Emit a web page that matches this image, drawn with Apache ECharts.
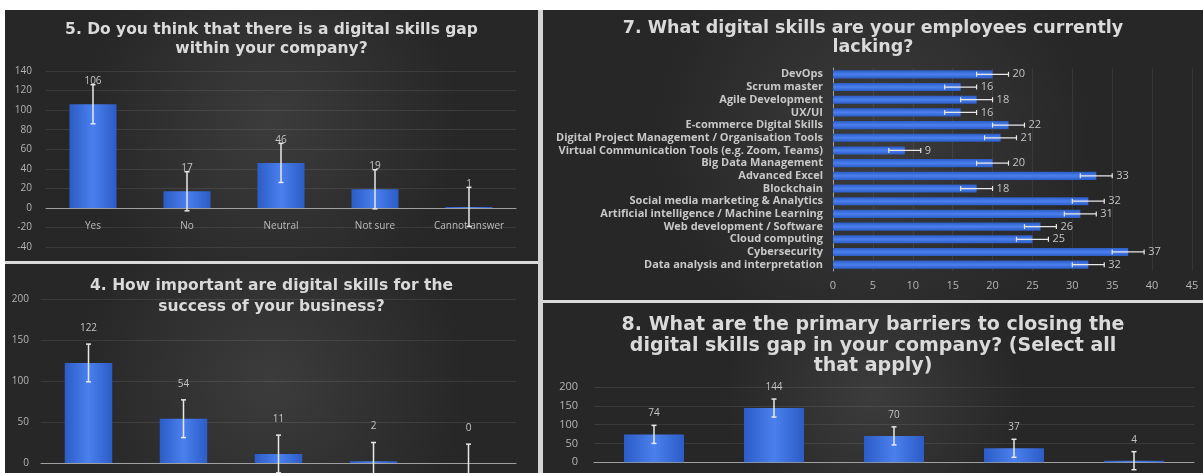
<!DOCTYPE html>
<html>
<head>
<meta charset="utf-8">
<script src="https://cdn.jsdelivr.net/npm/echarts@6/dist/echarts.min.js"></script>
<style>
html, body { margin:0; padding:0; background:#ffffff; width:1203px; height:473px; overflow:hidden; }
.panel { position:absolute; overflow:hidden; }
#q5 { left:5px; top:10px; width:533px; height:251px; }
#q4 { left:5px; top:264px; width:533px; height:260px; }
#q7 { left:543px; top:10px; width:660px; height:290px; }
#q8 { left:543px; top:303px; width:660px; height:200px; }
#sepV { position:absolute; left:538px; top:10px; width:5px; height:463px; background:#d4d4d4; }
#sepL { position:absolute; left:5px; top:261px; width:533px; height:3px; background:#dadada; }
#sepR { position:absolute; left:543px; top:300px; width:660px; height:3px; background:#dadada; }
</style>
</head>
<body>
<div id="sepV"></div>
<div id="sepL"></div>
<div id="sepR"></div>
<div id="q5" class="panel"></div>
<div id="q4" class="panel"></div>
<div id="q7" class="panel"></div>
<div id="q8" class="panel"></div>
<script>
// 5. digital skills gap
var q5Cats = ['Yes', 'No', 'Neutral', 'Not sure', 'Cannot answer'];
var q5Vals = [106, 17, 46, 19, 1];
var q5Err = 20;
var q5Ticks = [-40, 140, 20]; // min, max, step

// 4. importance of digital skills (category labels are cut off in the picture)
var q4Cats = ['1', '2', '3', '4', '5'];
var q4Vals = [122, 54, 11, 2, 0];
var q4Err = 23;
var q4Ticks = [-50, 200, 50];

// 7. skills lacking
var q7Cats = ['DevOps', 'Scrum master', 'Agile Development', 'UX/UI', 'E-commerce Digital Skills',
    'Digital Project Management / Organisation Tools', 'Virtual Communication Tools (e.g. Zoom, Teams)',
    'Big Data Management', 'Advanced Excel', 'Blockchain', 'Social media marketing & Analytics',
    'Artificial intelligence / Machine Learning', 'Web development / Software', 'Cloud computing',
    'Cybersecurity', 'Data analysis and interpretation'];
var q7Vals = [20, 16, 18, 16, 22, 21, 9, 20, 33, 18, 32, 31, 26, 25, 37, 32];
var q7Err = 2;
var q7Ticks = [0, 45, 5];

// 8. barriers (category labels are cut off in the picture)
var q8Cats = ['1', '2', '3', '4', '5'];
var q8Vals = [74, 144, 70, 37, 4];
var q8Err = 24;
var q8Ticks = [-50, 200, 50];

var FONT = '"Open Sans", "DejaVu Sans", sans-serif';
var TFONT = '"DejaVu Sans", sans-serif';

function panelBg(){
    return {
        type:'radial', x:0.5, y:0.45, r:0.75,
        colorStops:[{offset:0, color:'#3c3c3c'}, {offset:1, color:'#272727'}]
    };
}
function barFill(horizontal){
    return {
        type:'linear', x:0, y:0, x2: horizontal ? 0 : 1, y2: horizontal ? 1 : 0,
        colorStops:[{offset:0, color:'#2c5cc6'}, {offset:0.5, color:'#4a80ee'}, {offset:1, color:'#2c5cc6'}]
    };
}

// 误差线 (vertical bars)
function errV(vals, err){
    return {
        type:'custom', z:10, silent:true,
        data: vals.map(function(v, i){ return [i, v - err, v + err]; }),
        encode:{x:0, y:[1, 2]},
        renderItem:function(params, api){
            var lo = api.coord([api.value(0), api.value(1)]);
            var hi = api.coord([api.value(0), api.value(2)]);
            var c = 2.5;
            var st = {stroke:'#e8e8e8', lineWidth:1.5};
            return {type:'group', children:[
                {type:'line', shape:{x1:lo[0], y1:lo[1], x2:hi[0], y2:hi[1]}, style:st},
                {type:'line', shape:{x1:lo[0]-c, y1:lo[1], x2:lo[0]+c, y2:lo[1]}, style:st},
                {type:'line', shape:{x1:hi[0]-c, y1:hi[1], x2:hi[0]+c, y2:hi[1]}, style:st}
            ]};
        }
    };
}
// 误差线 (horizontal bars)
function errH(vals, err){
    return {
        type:'custom', z:10, silent:true,
        data: vals.map(function(v, i){ return [v - err, v + err, i]; }),
        encode:{x:[0, 1], y:2},
        renderItem:function(params, api){
            var lo = api.coord([api.value(0), api.value(2)]);
            var hi = api.coord([api.value(1), api.value(2)]);
            var c = 2.5;
            var st = {stroke:'#e8e8e8', lineWidth:1.2};
            return {type:'group', children:[
                {type:'line', shape:{x1:lo[0], y1:lo[1], x2:hi[0], y2:hi[1]}, style:st},
                {type:'line', shape:{x1:lo[0], y1:lo[1]-c, x2:lo[0], y2:lo[1]+c}, style:st},
                {type:'line', shape:{x1:hi[0], y1:hi[1]-c, x2:hi[0], y2:hi[1]+c}, style:st}
            ]};
        }
    };
}

function columnChart(id, title, titleSize, titleLH, titleTop, cats, vals, err, ticks, grid, catMargin, labelDist, yFont, yMargin){
    var myChart = echarts.init(document.getElementById(id));
    var option = {
        backgroundColor: panelBg(),
        animation:false,
        title:{
            text:title, left:'center', top:titleTop,
            textStyle:{color:'#dadada', fontSize:titleSize, fontWeight:'bold', lineHeight:titleLH, fontFamily:TFONT}
        },
        grid:grid,
        xAxis:{
            type:'category', data:cats,
            axisLine:{onZero:true, lineStyle:{color:'#a0a0a0', width:1}},
            axisTick:{show:false},
            axisLabel:{show:catMargin !== null, color:'#bdbdbd', fontSize:10, fontFamily:FONT, interval:0, margin:catMargin || 8}
        },
        yAxis:{
            type:'value', min:ticks[0], max:ticks[1], interval:ticks[2],
            axisLine:{show:false}, axisTick:{show:false},
            axisLabel:{color:'#b5b5b5', fontSize:yFont, fontFamily:FONT, margin:yMargin},
            splitLine:{lineStyle:{color:'rgba(255,255,255,0.09)', width:1}}
        },
        series:[
            {
                type:'bar', data:vals, barWidth:'50%',
                itemStyle:{color:barFill(false)},
                label:{show:true, position:'top', distance:labelDist, color:'#c4c4c4', fontSize:10, fontFamily:FONT}
            },
            errV(vals, err)
        ]
    };
    myChart.setOption(option);
}

columnChart('q5', '5. Do you think that there is a digital skills gap\nwithin your company?', 15.5, 19, 5,
    q5Cats, q5Vals, q5Err, q5Ticks, {left:41, right:22, top:61, bottom:14}, -26, 18, 10, 14);

columnChart('q4', '4. How important are digital skills for the\nsuccess of your business?', 15.5, 21, 6,
    q4Cats, q4Vals, q4Err, q4Ticks, {left:36, right:22, top:35, bottom:20}, null, 30, 10, 12);

columnChart('q8', '8. What are the primary barriers to closing the\ndigital skills gap in your company? (Select all\nthat apply)', 19, 20.5, 7,
    q8Cats, q8Vals, q8Err, q8Ticks, {left:51, right:9, top:84, bottom:22}, null, 16, 11, 16);

// 7. What digital skills are your employees currently lacking?
(function(){
    var myChart = echarts.init(document.getElementById('q7'));
    var option = {
        backgroundColor: panelBg(),
        animation:false,
        title:{
            text:'7. What digital skills are your employees currently\nlacking?', left:'center', top:4,
            textStyle:{color:'#dadada', fontSize:17.5, fontWeight:'bold', lineHeight:19, fontFamily:TFONT}
        },
        grid:{left:290, right:11, top:58, bottom:29},
        xAxis:{
            type:'value', min:q7Ticks[0], max:q7Ticks[1], interval:q7Ticks[2],
            axisLine:{show:false}, axisTick:{show:false},
            axisLabel:{color:'#b5b5b5', fontSize:11, fontFamily:FONT, margin:9},
            splitLine:{lineStyle:{color:'rgba(255,255,255,0.07)', width:1}}
        },
        yAxis:{
            type:'category', data:q7Cats, inverse:true,
            axisLine:{lineStyle:{color:'#a0a0a0', width:1}},
            axisTick:{show:false},
            axisLabel:{color:'#c8c8c8', fontSize:11, fontWeight:'bold', fontFamily:FONT, interval:0, margin:10}
        },
        series:[
            {
                type:'bar', data:q7Vals, barWidth:'64%',
                itemStyle:{color:barFill(true)},
                label:{show:true, position:'right', distance:20, color:'#c4c4c4', fontSize:11, fontFamily:FONT}
            },
            errH(q7Vals, q7Err)
        ]
    };
    myChart.setOption(option);
})();
</script>
</body>
</html>
